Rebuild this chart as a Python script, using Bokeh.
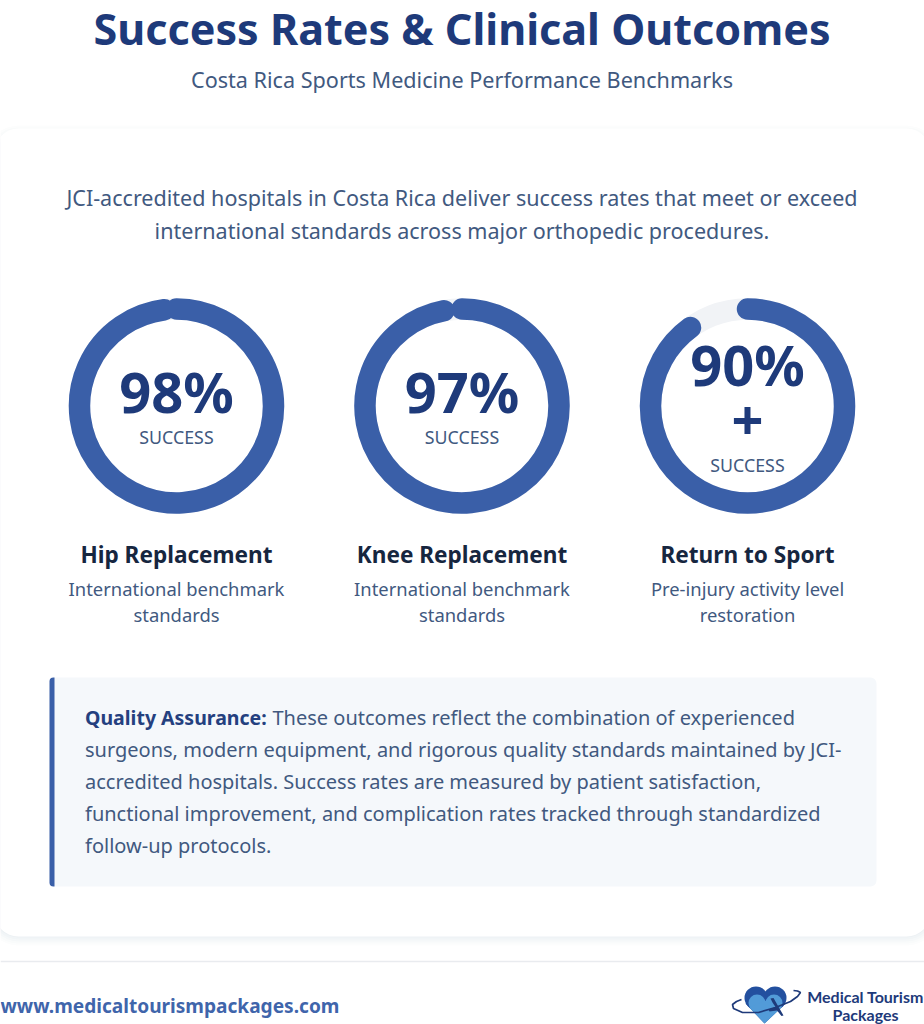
from math import pi
from bokeh.core.properties import value
from bokeh.plotting import figure
from bokeh.embed import file_html
from bokeh.resources import INLINE

# ---- chart content ----
categories = ["Hip Replacement", "Knee Replacement", "Return to Sport"]
success_values = [98, 97, 90]
value_labels = ["98%", "97%", "90%"]
descriptions = [["International benchmark", "standards"],
                ["International benchmark", "standards"],
                ["Pre-injury activity level", "restoration"]]
title = "Success Rates & Clinical Outcomes"
subtitle = "Costa Rica Sports Medicine Performance Benchmarks"
intro = ["JCI-accredited hospitals in Costa Rica deliver success rates that meet or exceed",
         "international standards across major orthopedic procedures."]
qa_head = "Quality Assurance:"
qa_lines = ["These outcomes reflect the combination of experienced",
            "surgeons, modern equipment, and rigorous quality standards maintained by JCI-",
            "accredited hospitals. Success rates are measured by patient satisfaction,",
            "functional improvement, and complication rates tracked through standardized",
            "follow-up protocols."]
site = "www.medicaltourismpackages.com"

FONT = "Noto Sans"
NAVY = "#1e3a7a"
BLUE = "#3a5fa8"
SLATE = "#41597f"
DARK = "#16263f"

p = figure(width=924, height=1024, x_range=(0, 924), y_range=(1024, 0),
           output_backend="svg", toolbar_location=None, min_border=0,
           outline_line_color=None, background_fill_color="#ffffff")
p.axis.visible = False
p.grid.visible = False


def label(x, y, text, size, color, weight="normal", align="center", font=FONT):
    p.text([x], [y], text=[text], text_font=value(font), text_font_size=f"{size}px", text_color=color,
           text_font_style=weight, text_align=align, text_baseline="middle")


# card shadow and card
for grow, alpha in [(9, 0.010), (7, 0.012), (5, 0.014), (3, 0.016), (1, 0.018)]:
    p.quad(left=-6 - grow, right=930 + grow, top=128 - grow + 6, bottom=936 + grow,
           fill_color="#1e3a7a", fill_alpha=alpha, line_color=None, border_radius=24 + grow)
p.quad(left=-6, right=930, top=128, bottom=936, fill_color="#ffffff", line_color=None,
       border_radius=24)

# header
label(461.5, 28, title, 43.1, NAVY, "bold")
label(461.5, 78.5, subtitle, 21.6, SLATE)
label(461.5, 196.5, intro[0], 21.55, SLATE)
label(461.5, 230, intro[1], 21.55, SLATE)

# rings
centers = [176, 461.5, 747]
CY, R, W = 405.5, 97, 21.5
for cx, v, lab, cat, desc in zip(centers, success_values, value_labels, categories, descriptions):
    p.circle([cx], [CY], radius=R, fill_color=None, line_color="#f1f3f6", line_width=W)
    # the ring starts at twelve o'clock and runs clockwise
    p.arc([cx], [CY], radius=R, start_angle=pi / 2 - 2 * pi * v / 100, end_angle=pi / 2,
          direction="anticlock", line_color=BLUE, line_width=W, line_cap="round")
    if v == 90:
        label(cx, 363, "90%", 56, NAVY, "bold")
        label(cx, 419, "+", 56, NAVY, "bold")
        label(cx, 464, "SUCCESS", 17.8, SLATE)
    else:
        label(cx, 390, lab, 56, NAVY, "bold")
        label(cx, 436, "SUCCESS", 17.8, SLATE)
    label(cx, 553.5, cat, 22.6, DARK, "bold")
    label(cx, 588, desc[0], 18.4, SLATE)
    label(cx, 614, desc[1], 18.4, SLATE)

# quality box
p.quad(left=49, right=876, top=677, bottom=886, fill_color="#f5f8fb", line_color=None, border_radius=6)
p.quad(left=49, right=54, top=677, bottom=886, fill_color=BLUE, line_color=None,
       border_radius=(4, 0, 0, 4))
label(84.5, 717, qa_head, 19.5, "#24407f", "bold", "left")
label(272, 717, qa_lines[0], 20, SLATE, "normal", "left")
for i, line in enumerate(qa_lines[1:]):
    label(84.5, 749 + 32 * i, line, 20, SLATE, "normal", "left")

# footer
p.segment([0], [961], [924], [961], line_color="#e9ebef", line_width=1.5)
label(0, 1005, site, 19.1, "#3f65ab", "bold", "left")

# logo
p.circle([755.5, 774.5], [997.5, 997.5], radius=11.5, fill_color="#23509f", line_color=None)
p.patch([745, 764, 785, 764], [1003, 1023, 1003, 992], fill_color="#23509f", line_color=None)
p.circle([756.5, 773.5], [1002.5, 1002.5], radius=8.5, fill_color="#529bd8", line_color=None)
p.patch([749, 764, 781, 764], [1007, 1023, 1007, 1000], fill_color="#529bd8", line_color=None)
orbit_x = [793, 797, 800, 797, 790, 775, 758, 742, 733, 732, 736, 741]
orbit_y = [990, 990.5, 992, 996, 1001, 1007, 1012, 1012, 1008, 1004, 1001, 999]
p.line(orbit_x, orbit_y, line_color="#1e3a7a", line_width=1.7)
p.patch([770, 773, 783, 781, 776.5, 769, 768, 775, 772],
        [998, 997.5, 1015, 1015.5, 1010, 1011, 1009, 1006.5, 1002],
        fill_color="#1e3a7a", line_color=None)
label(865, 996, "Medical Tourism", 16, NAVY, "bold", font="Lato")
label(865, 1013.5, "Packages", 16, NAVY, "bold", font="Lato")

open("out.html", "w").write(file_html(p, INLINE))
